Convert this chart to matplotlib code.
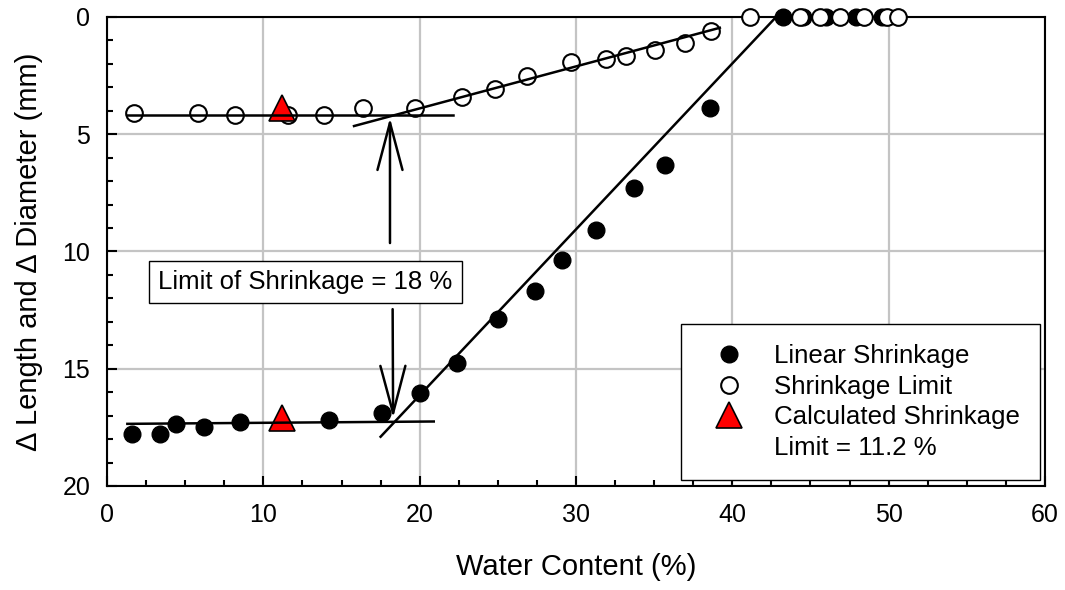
import numpy as np
import matplotlib
matplotlib.use("Agg")
import matplotlib.pyplot as plt
from matplotlib.ticker import MultipleLocator
from matplotlib.lines import Line2D

plt.rcParams['font.family'] = ['Liberation Sans', 'DejaVu Sans']

# linear shrinkage (filled circles)
ls_w = [1.6, 3.4, 4.4, 6.2, 8.5, 14.2, 17.6, 20.0, 22.4, 25.0, 27.4, 29.1, 31.3, 33.7, 35.7, 38.6,
        43.25, 44.5, 46.0, 47.9, 49.6]
ls_d = [17.8, 17.8, 17.35, 17.47, 17.27, 17.19, 16.88, 16.05, 14.77, 12.9, 11.68, 10.38, 9.08, 7.3, 6.3, 3.88,
        0, 0, 0, 0, 0]

# shrinkage limit (open circles)
sl_w = [1.7, 5.8, 8.2, 11.55, 13.9, 16.4, 19.7, 22.7, 24.8, 26.85, 29.7, 31.95, 33.2, 35.05, 37.0, 38.65,
        41.1, 44.3, 45.6, 46.9, 48.4, 49.9, 50.6]
sl_d = [4.1, 4.1, 4.2, 4.2, 4.2, 3.9, 3.9, 3.4, 3.08, 2.52, 1.9, 1.8, 1.68, 1.4, 1.1, 0.6,
        0, 0, 0, 0, 0, 0, 0]

# calculated shrinkage limit = 11.2 %
calc_w = [11.2, 11.2]
calc_d = [3.9, 17.1]

# fitted lines
upper_flat_w = [1.3, 22.1]
upper_flat_d = [4.2, 4.2]
upper_slope_w = [15.8, 39.2]
upper_slope_d = [4.65, 0.46]
lower_flat_w = [1.3, 20.9]
lower_flat_d = [17.35, 17.25]
lower_slope_w = [17.5, 42.8]
lower_slope_d = [17.9, 0.0]

fig = plt.figure(figsize=(10.65, 5.9), dpi=100)
ax = fig.add_axes([0.1005, 0.1763, 0.8807, 0.7949])

ax.grid(True, which='major', color='#c4c4c4', linewidth=1.6, zorder=0)
ax.set_axisbelow(True)

ax.plot(ls_w, ls_d, 'o', color='black', markersize=12, clip_on=False, zorder=3)
ax.plot(sl_w, sl_d, 'o', markerfacecolor='white', markeredgecolor='black', markeredgewidth=1.5,
        markersize=12, clip_on=False, zorder=3)
ax.plot(calc_w, calc_d, '^', markerfacecolor='red', markeredgecolor='black', markeredgewidth=1.2,
        markersize=19, clip_on=False, zorder=4)

for xs, ys in [(upper_flat_w, upper_flat_d), (upper_slope_w, upper_slope_d),
               (lower_flat_w, lower_flat_d), (lower_slope_w, lower_slope_d)]:
    ax.plot(xs, ys, color='black', linewidth=1.8, zorder=5)

arrow = dict(arrowstyle='->,head_length=1.7,head_width=0.45', color='black', lw=1.8,
             mutation_scale=20, shrinkA=0, shrinkB=0)
ax.annotate('', xy=(18.1, 4.3), xytext=(18.1, 9.64), arrowprops=arrow, zorder=6)
ax.annotate('', xy=(18.3, 17.1), xytext=(18.27, 12.46), arrowprops=arrow, zorder=6)

ax.text(12.7, 11.3, 'Limit of Shrinkage = 18 %', fontsize=18.5, ha='center', va='center', zorder=7,
        bbox=dict(boxstyle='square,pad=0.35', facecolor='white', edgecolor='black', linewidth=1))

ax.set_xlim(0, 60)
ax.set_ylim(20, 0)
ax.xaxis.set_major_locator(MultipleLocator(10))
ax.xaxis.set_minor_locator(MultipleLocator(2.5))
ax.yaxis.set_major_locator(MultipleLocator(5))
ax.yaxis.set_minor_locator(MultipleLocator(1))
ax.tick_params(which='both', direction='in', labelsize=18, width=1.5)
ax.tick_params(which='major', length=7, pad=12)
ax.tick_params(which='minor', length=4.3)
for s in ax.spines.values():
    s.set_linewidth(1.5)

ax.set_xlabel('Water Content (%)', fontsize=21, labelpad=19)
ax.set_ylabel('\u0394 Length and \u0394 Diameter (mm)', fontsize=21, labelpad=14)

handles = [
    Line2D([], [], marker='o', linestyle='none', color='black', markersize=12),
    Line2D([], [], marker='o', linestyle='none', markerfacecolor='white', markeredgecolor='black',
           markeredgewidth=1.5, markersize=12),
    Line2D([], [], marker='^', linestyle='none', markerfacecolor='red', markeredgecolor='black',
           markeredgewidth=1.2, markersize=19),
    Line2D([], [], linestyle='none'),
]
labels = ['Linear Shrinkage', 'Shrinkage Limit', 'Calculated Shrinkage', 'Limit = 11.2 %']
leg = ax.legend(handles, labels, loc='lower right', bbox_to_anchor=(0.9947, 0.0128), fontsize=18.6,
                frameon=True, fancybox=False, edgecolor='black', framealpha=1, borderpad=0.78,
                borderaxespad=0, labelspacing=0.25, handletextpad=0.7, handlelength=2.1)
leg.get_frame().set_linewidth(1)
leg.set_zorder(8)

fig.savefig('out.png', dpi=100)
